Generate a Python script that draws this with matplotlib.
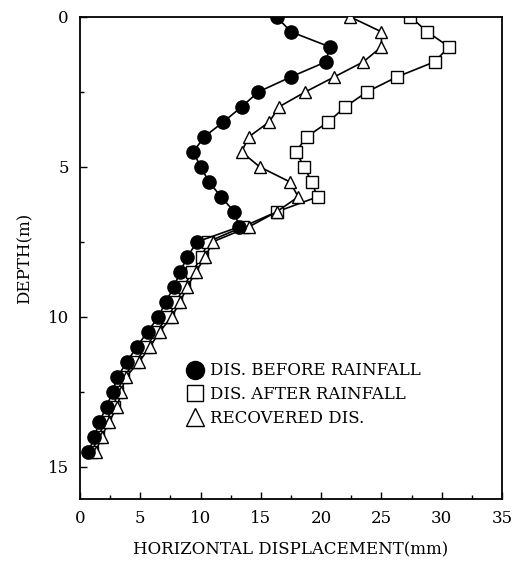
import matplotlib.pyplot as plt
from matplotlib.lines import Line2D
from matplotlib.ticker import MultipleLocator

# depth of each reading (m)
depth = [i * 0.5 for i in range(30)]

# horizontal displacement (mm)
dis_before = [16.3, 17.5, 20.7, 20.4, 17.5, 14.8, 13.4, 11.9, 10.3, 9.4,
              10.0, 10.7, 11.7, 12.8, 13.2, 9.7, 8.9, 8.3, 7.8, 7.1,
              6.5, 5.6, 4.7, 3.9, 3.1, 2.7, 2.2, 1.6, 1.2, 0.7]
dis_after = [27.4, 28.8, 30.6, 29.4, 26.3, 23.8, 22.0, 20.6, 18.8, 17.9,
             18.6, 19.2, 19.7, 16.3, 13.5, 10.6, 10.1, 9.3, 8.6, 8.0,
             7.3, 6.3, 5.5, 4.6, 3.6, 3.1, 2.8, 2.1, 1.5, 1.0]
dis_recovered = [22.4, 25.0, 25.0, 23.5, 21.1, 18.7, 16.5, 15.7, 14.0, 13.4,
                 14.9, 17.4, 18.1, 16.3, 14.0, 11.0, 10.4, 9.6, 8.9, 8.3,
                 7.6, 6.6, 5.8, 4.9, 3.8, 3.4, 3.1, 2.4, 1.8, 1.3]

labels = ["DIS. BEFORE RAINFALL", "DIS. AFTER RAINFALL", "RECOVERED DIS."]

plt.rcParams['font.family'] = ['DejaVu Serif']

fig = plt.figure(figsize=(5.16, 5.61), dpi=100)
ax = fig.add_axes([0.155, 0.1105, 0.818, 0.8595])

ax.plot(dis_after, depth, color='black', lw=1.2, marker='s', ms=9,
        mfc='white', mec='black', mew=1.0, zorder=2)
ax.plot(dis_recovered, depth, color='black', lw=1.2, marker='^', ms=9,
        mfc='white', mec='black', mew=1.0, zorder=3)
ax.plot(dis_before, depth, color='black', lw=1.2, marker='o', ms=9.5,
        mfc='black', mec='black', zorder=4)

ax.set_xlim(0, 35)
ax.set_ylim(16.07, 0)
ax.xaxis.set_major_locator(MultipleLocator(5))
ax.xaxis.set_minor_locator(MultipleLocator(2.5))
ax.yaxis.set_major_locator(MultipleLocator(5))
ax.yaxis.set_minor_locator(MultipleLocator(2.5))
ax.tick_params(direction='in', which='major', length=5, width=1,
               labelsize=12, pad=8)
ax.tick_params(direction='in', which='minor', length=3, width=1)
for s in ax.spines.values():
    s.set_linewidth(1.3)

ax.set_xlabel("HORIZONTAL DISPLACEMENT(mm)", fontsize=12, labelpad=10)
ax.set_ylabel("DEPTH(m)", fontsize=12, labelpad=10)

handles = [
    Line2D([], [], ls='none', marker='o', ms=13, mfc='black', mec='black'),
    Line2D([], [], ls='none', marker='s', ms=12, mfc='white', mec='black'),
    Line2D([], [], ls='none', marker='^', ms=13, mfc='white', mec='black'),
]
ax.legend(handles, labels, loc='upper left', bbox_to_anchor=(0.24, 0.297),
          frameon=False, fontsize=12, handlelength=0.8, handletextpad=0.5,
          labelspacing=0.4, borderaxespad=0)

fig.savefig("out.png", dpi=100)
